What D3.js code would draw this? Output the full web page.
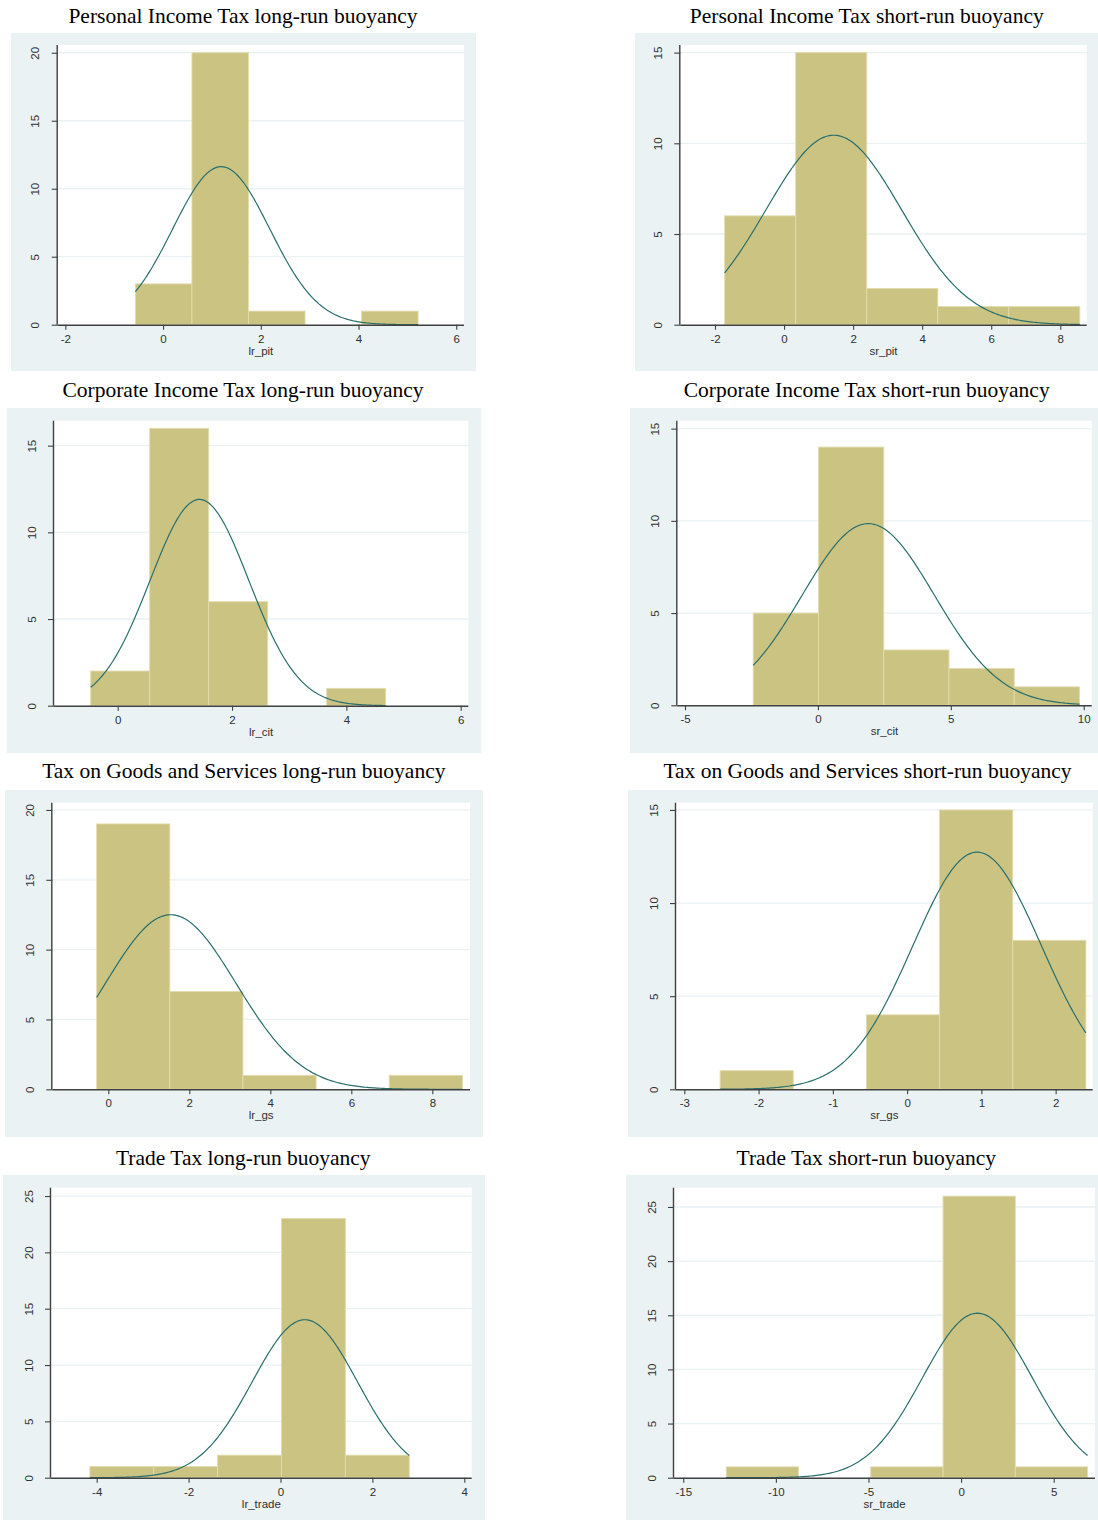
<!DOCTYPE html>
<html><head><meta charset="utf-8">
<script src="https://cdn.jsdelivr.net/npm/d3@7"></script>
<style>body{margin:0;background:#fff}svg{display:block}</style>
</head><body>
<svg id="chart" width="1098" height="1520"></svg>
<script>
// ---- data ----
const titles = [
  "Personal Income Tax long-run buoyancy", "Personal Income Tax short-run buoyancy",
  "Corporate Income Tax long-run buoyancy", "Corporate Income Tax short-run buoyancy",
  "Tax on Goods and Services long-run buoyancy", "Tax on Goods and Services short-run buoyancy",
  "Trade Tax long-run buoyancy", "Trade Tax short-run buoyancy"];
const xLabels = ["lr_pit", "sr_pit", "lr_cit", "sr_cit", "lr_gs", "sr_gs", "lr_trade", "sr_trade"];
const binStart = [-0.566, -1.72, -0.472, -2.434, -0.288, -2.518, -4.148, -12.68];
const binWidth = [1.157, 2.057, 1.032, 2.455, 1.806, 0.985, 1.39, 3.902];
const counts = [
  [3, 20, 1, 0, 1], [6, 15, 2, 1, 1], [2, 16, 6, 0, 1], [5, 14, 3, 2, 1],
  [19, 7, 1, 0, 1], [1, 0, 4, 15, 8], [1, 1, 2, 23, 2], [1, 0, 1, 26, 1]];
const normalMean = [1.19, 1.44, 1.43, 1.895, 1.54, 0.943, 0.53, 0.88];
const normalSd = [0.993, 1.964, 0.865, 2.486, 1.614, 0.864, 1.147, 2.972];
const xTicks = [[-2,0,2,4,6],[-2,0,2,4,6,8],[0,2,4,6],[-5,0,5,10],[0,2,4,6,8],[-3,-2,-1,0,1,2],[-4,-2,0,2,4],[-15,-10,-5,0,5]];
const yTicks = [[0,5,10,15,20],[0,5,10,15],[0,5,10,15],[0,5,10,15],[0,5,10,15,20],[0,5,10,15],[0,5,10,15,20,25],[0,5,10,15,20,25]];

// ---- layout ----
const outerBox = [[11,33,476,371],[635,33,1098,371],[7,408,481,753],[630,408,1098,753],
  [5,790,483,1137],[628,790,1098,1137],[3,1175,485,1520],[626,1175,1098,1520]];
const plotBox = [[57.7,45,464,324.7],[680.3,45,1086.7,324.7],[54,420.7,468.3,705.7],[677.3,420.7,1091.7,705.3],
  [52.3,802.7,470,1089.3],[676,802.7,1092.7,1089.3],[51,1187.7,471.7,1477.7],[674,1187.7,1095,1477.7]];
const xDomain = [[-2.156,6.158],[-3.005,8.765],[-1.114,6.133],[-5.29,10.30],[-1.383,8.93],[-3.112,2.499],[-4.994,4.161],[-15.50,7.23]];
const yTop = [20.57,15.42,16.44,15.43,20.52,15.39,25.74,26.78];
const titlePos = [[243,22.7],[866.7,22.7],[243,396.7],[866.7,396.7],[243.8,778.3],[867.5,778.3],[243.3,1165],[866.3,1165]];

const BG = "#eaf2f3", BAR = "#cbc382", BAR_EDGE = "#e2dcae", CURVE = "#2a6f6c", AXIS = "#404040", TXT = "#303030";
const svg = d3.select("#chart");

titles.forEach((t, i) => {
  const [ox0, oy0, ox1, oy1] = outerBox[i];
  const [L, T, R, B] = plotBox[i];
  const g = svg.append("g");
  g.append("rect").attr("x", ox0).attr("y", oy0).attr("width", ox1 - ox0).attr("height", oy1 - oy0).attr("fill", BG);
  g.append("rect").attr("x", L).attr("y", T).attr("width", R - L).attr("height", B - T).attr("fill", "#fff");

  const x = d3.scaleLinear().domain(xDomain[i]).range([L, R]);
  const y = d3.scaleLinear().domain([0, yTop[i]]).range([B, T]);

  // gridlines
  g.selectAll(".grid").data(yTicks[i].filter(v => v > 0)).join("line")
    .attr("x1", L).attr("x2", R).attr("y1", d => y(d)).attr("y2", d => y(d))
    .attr("stroke", BG).attr("stroke-width", 1.3);

  // bars
  const bins = counts[i].map((c, k) => ({x0: binStart[i] + k * binWidth[i], x1: binStart[i] + (k + 1) * binWidth[i], c}));
  g.selectAll(".bar").data(bins.filter(b => b.c > 0)).join("rect")
    .attr("x", d => x(d.x0)).attr("width", d => x(d.x1) - x(d.x0))
    .attr("y", d => y(d.c)).attr("height", d => y(0) - y(d.c))
    .attr("fill", BAR).attr("stroke", BAR_EDGE).attr("stroke-width", 0.9);

  // normal density curve scaled to frequency
  const N = d3.sum(counts[i]);
  const mu = normalMean[i], sd = normalSd[i];
  const lo = binStart[i], hi = binStart[i] + counts[i].length * binWidth[i];
  const pts = d3.range(0, 201).map(k => {
    const xv = lo + (hi - lo) * k / 200;
    const z = (xv - mu) / sd;
    return [xv, N * binWidth[i] * Math.exp(-0.5 * z * z) / (sd * Math.sqrt(2 * Math.PI))];
  });
  g.append("path").datum(pts)
    .attr("d", d3.line().x(d => x(d[0])).y(d => y(d[1])))
    .attr("fill", "none").attr("stroke", CURVE).attr("stroke-width", 1.2);

  // axes
  const fmt = d => String(d);
  const xa = g.append("g").attr("transform", `translate(0,${B})`)
    .call(d3.axisBottom(x).tickValues(xTicks[i]).tickSize(5).tickPadding(5).tickSizeOuter(0).tickFormat(fmt));
  xa.select(".domain").attr("d", `M${L},0.5H${R}`);
  const ya = g.append("g").attr("transform", `translate(${L},0)`)
    .call(d3.axisLeft(y).tickValues(yTicks[i]).tickSize(6).tickSizeOuter(0).tickFormat(fmt));
  ya.select(".domain").attr("d", `M-0.5,${T}V${B}`);
  [xa, ya].forEach(a => {
    a.select(".domain").attr("stroke", AXIS).attr("stroke-width", 1.4);
    a.selectAll(".tick line").attr("stroke", AXIS).attr("stroke-width", 1.1);
    a.selectAll("text").attr("fill", TXT).style("font-family", "'Liberation Sans', Arial, sans-serif").style("font-size", "11.5px");
  });
  ya.selectAll(".tick text")
    .attr("x", null).attr("dy", null)
    .attr("text-anchor", "middle")
    .attr("transform", "translate(-18.5,0) rotate(-90)");

  // axis title
  g.append("text").attr("x", (L + R) / 2).attr("y", B + 30)
    .attr("text-anchor", "middle").attr("fill", TXT)
    .style("font-family", "'Liberation Sans', Arial, sans-serif").style("font-size", "11.5px")
    .text(xLabels[i]);

  // panel title
  g.append("text").attr("x", titlePos[i][0]).attr("y", titlePos[i][1])
    .attr("text-anchor", "middle").attr("fill", "#000")
    .style("font-family", "'Liberation Serif', 'Times New Roman', serif").style("font-size", "21.5px")
    .text(t);
});
</script>
</body></html>
